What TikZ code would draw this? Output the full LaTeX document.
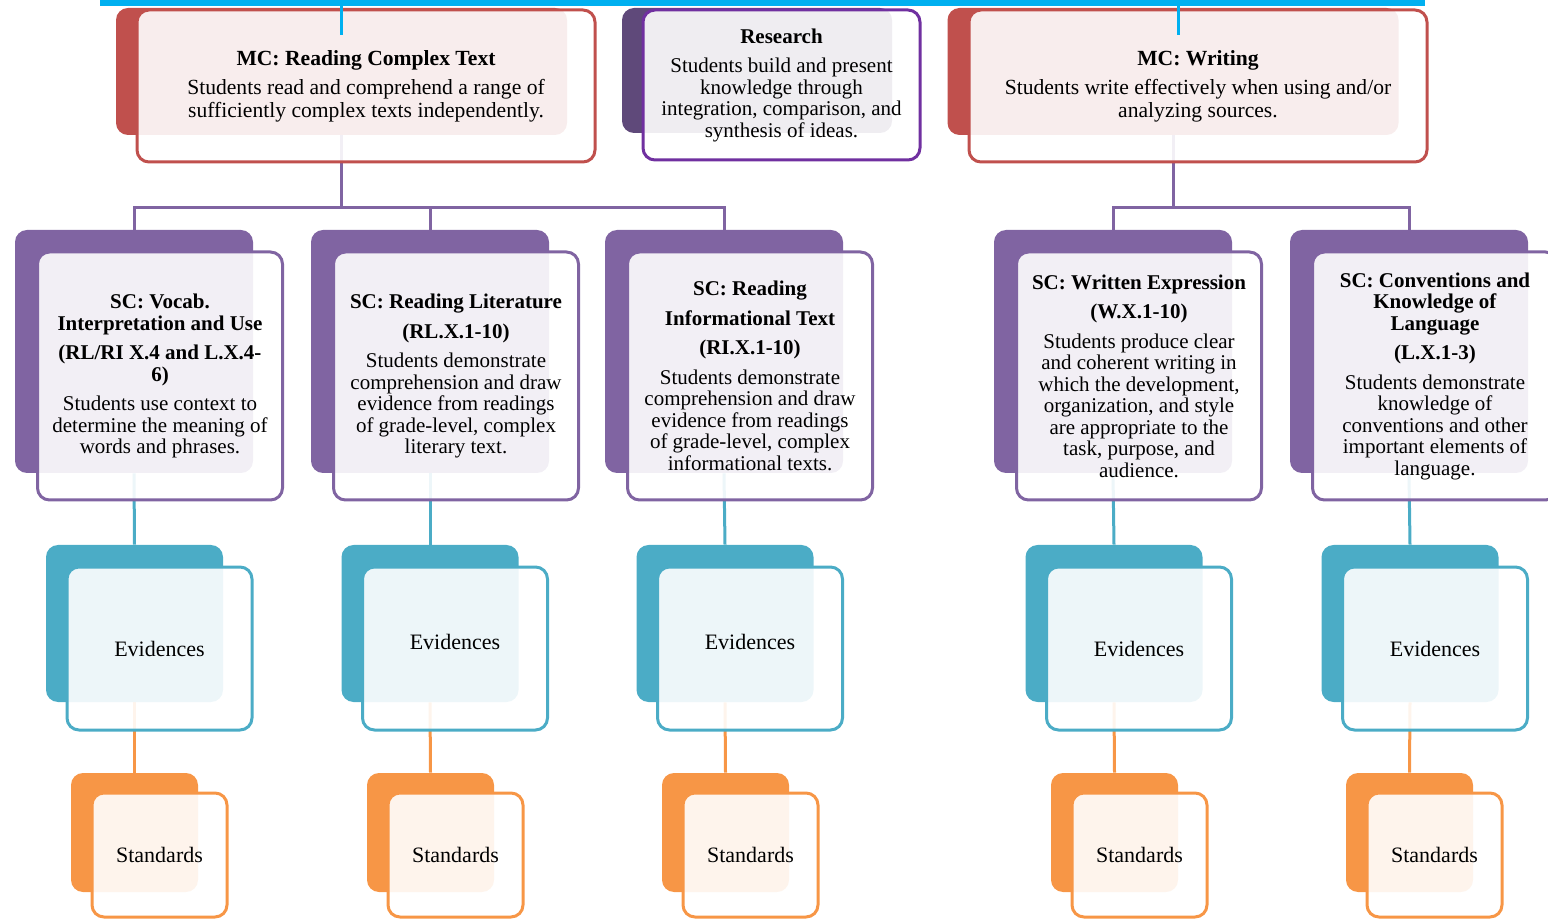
\documentclass[tikz,border=0pt]{standalone}
\usepackage{fontspec}
\setmainfont{Liberation Serif}
\usetikzlibrary{backgrounds}

\definecolor{mcred}{HTML}{C0504D}
\definecolor{rsdark}{HTML}{5F497A}
\definecolor{rsedge}{HTML}{7030A0}
\definecolor{scpurple}{HTML}{8064A2}
\definecolor{evteal}{HTML}{4BACC6}
\definecolor{storange}{HTML}{F79646}
\definecolor{barblue}{HTML}{00B0F0}

\tikzset{
	boxback/.style={rounded corners=6pt, inner sep=0pt},
	boxfront/.style={draw, line width=1.5pt, rounded corners=6pt, fill=white, fill opacity=0.9, text opacity=1, align=center, inner sep=0pt, font=\fontsize{10.5}{10.75}\selectfont},
	mcback/.style={boxback, fill=mcred, minimum width=225.5pt, minimum height=63.5pt},
	mcfront/.style={boxfront, draw=mcred, minimum width=229pt, minimum height=76pt, font=\fontsize{10.8}{11.5}\selectfont},
	rsback/.style={boxback, fill=rsdark, minimum width=135pt, minimum height=62.5pt},
	rsfront/.style={boxfront, draw=rsedge, minimum width=138.5pt, minimum height=75pt},
	scback/.style={boxback, fill=scpurple, minimum width=119pt, minimum height=121.5pt},
	scfront/.style={boxfront, draw=scpurple, minimum width=122.5pt, minimum height=124pt},
	evback/.style={boxback, fill=evteal, minimum width=88.5pt, minimum height=78.5pt},
	evfront/.style={boxfront, draw=evteal, minimum width=92.5pt, minimum height=81.5pt, font=\fontsize{11}{12}\selectfont},
	stback/.style={boxback, fill=storange, minimum width=63.5pt, minimum height=59.5pt},
	stfront/.style={boxfront, draw=storange, minimum width=67.5pt, minimum height=62pt, font=\fontsize{11}{12}\selectfont},
	mcline/.style={draw=scpurple, line width=1.5pt},
	scline/.style={draw=evteal, line width=1.5pt},
	evline/.style={draw=storange, line width=1.5pt},
	barline/.style={draw=barblue, line width=1.5pt},
}

\begin{document}
\begin{tikzpicture}[x=0.5pt, y=-0.5pt]
		\useasboundingbox (0,0) rectangle (1548,919);

		% main claims
		\node [mcback] (mcrb) at (341.5, 71.5) {};
		\node [rsback] (rsb) at (757, 70.5) {};
		\node [mcback] (mcwb) at (1173, 71.5) {};
		\node [mcfront] (mcr) at (366, 86) {\textbf{MC: Reading Complex Text}\\[3pt] Students read and comprehend a range of\\ sufficiently complex texts independently.};
		\node [rsfront] (rs) at (781.5, 85) {\textbf{Research}\\[4pt] Students build and present\\ knowledge through\\ integration, comparison, and\\ synthesis of ideas.};
		\node [mcfront] (mcw) at (1198, 86) {\textbf{MC: Writing}\\[3pt] Students write effectively when using and/or\\ analyzing sources.};

		% sub claims
		\node [scback] (sc1b) at (134, 351.5) {};
		\node [scback] (sc2b) at (430, 351.5) {};
		\node [scback] (sc3b) at (724, 351.5) {};
		\node [scback] (sc4b) at (1113, 351.5) {};
		\node [scback] (sc5b) at (1409, 351.5) {};
		\node [scfront] (sc1) at (160, 376) {\textbf{SC: Vocab.}\\ \textbf{Interpretation and Use}\\[4pt] \textbf{(RL/RI X.4 and L.X.4-}\\ \textbf{6)}\\[4pt] Students use context to\\ determine the meaning of\\ words and phrases.};
		\node [scfront] (sc2) at (456, 376) {\textbf{SC: Reading Literature}\\[4pt] \textbf{(RL.X.1-10)}\\[4pt] Students demonstrate\\ comprehension and draw\\ evidence from readings\\ of grade-level, complex\\ literary text.};
		\node [scfront] (sc3) at (750, 376) {\textbf{SC: Reading}\\[4pt] \textbf{Informational Text}\\[4pt] \textbf{(RI.X.1-10)}\\[4pt] Students demonstrate\\ comprehension and draw\\ evidence from readings\\ of grade-level, complex\\ informational texts.};
		\node [scfront] (sc4) at (1139, 376) {\textbf{SC: Written Expression}\\[4pt] \textbf{(W.X.1-10)}\\[4pt] Students produce clear\\ and coherent writing in\\ which the development,\\ organization, and style\\ are appropriate to the\\ task, purpose, and\\ audience.};
		\node [scfront] (sc5) at (1435, 376) {\textbf{SC: Conventions and}\\ \textbf{Knowledge of}\\ \textbf{Language}\\[4pt] \textbf{(L.X.1-3)}\\[4pt] Students demonstrate\\ knowledge of\\ conventions and other\\ important elements of\\ language.};

		% evidences
		\node [evback] (ev1b) at (134.5, 623.5) {};
		\node [evback] (ev2b) at (430, 623.5) {};
		\node [evback] (ev3b) at (725, 623.5) {};
		\node [evback] (ev4b) at (1114, 623.5) {};
		\node [evback] (ev5b) at (1410, 623.5) {};
		\node [evfront] (ev1) at (159.5, 648.5) {Evidences};
		\node [evfront] (ev2) at (455, 648.5) {\raisebox{7pt}{Evidences}};
		\node [evfront] (ev3) at (750, 648.5) {\raisebox{7pt}{Evidences}};
		\node [evfront] (ev4) at (1139, 648.5) {Evidences};
		\node [evfront] (ev5) at (1435, 648.5) {Evidences};

		% standards
		\node [stback] (st1b) at (134.5, 832.5) {};
		\node [stback] (st2b) at (430.5, 832.5) {};
		\node [stback] (st3b) at (725.5, 832.5) {};
		\node [stback] (st4b) at (1114.5, 832.5) {};
		\node [stback] (st5b) at (1409.5, 832.5) {};
		\node [stfront] (st1) at (159.5, 855) {Standards};
		\node [stfront] (st2) at (455.5, 855) {Standards};
		\node [stfront] (st3) at (750.5, 855) {Standards};
		\node [stfront] (st4) at (1139.5, 855) {Standards};
		\node [stfront] (st5) at (1434.5, 855) {Standards};

		\coordinate (j1) at (341.5, 208);
		\coordinate (j2) at (1173, 208);
		\begin{scope}[on background layer]
			\draw [mcline] (mcrb.south) -- (j1) -| (sc1b.north);
			\draw [mcline] (j1) -| (sc2b.north);
			\draw [mcline] (j1) -| (sc3b.north);
			\draw [mcline] (mcwb.south) -- (j2) -| (sc4b.north);
			\draw [mcline] (j2) -| (sc5b.north);
			\draw [scline] (sc1b.south) -- (ev1b.north);
			\draw [scline] (sc2b.south) -- (ev2b.north);
			\draw [scline] (sc3b.south) -- (ev3b.north);
			\draw [scline] (sc4b.south) -- (ev4b.north);
			\draw [scline] (sc5b.south) -- (ev5b.north);
			\draw [evline] (ev1b.south) -- (st1b.north);
			\draw [evline] (ev2b.south) -- (st2b.north);
			\draw [evline] (ev3b.south) -- (st3b.north);
			\draw [evline] (ev4b.south) -- (st4b.north);
			\draw [evline] (ev5b.south) -- (st5b.north);
		\end{scope}

		% top bar
		\coordinate (barl) at (100, 3);
		\coordinate (barr) at (1425, 3);
		\coordinate (t1) at (341, 3);
		\coordinate (t1e) at (341, 35);
		\coordinate (t2) at (1178, 3);
		\coordinate (t2e) at (1178, 35);
		\draw [barline, line width=3pt] (barl) -- (barr);
		\draw [barline] (t1) -- (t1e);
		\draw [barline] (t2) -- (t2e);
\end{tikzpicture}
\end{document}
